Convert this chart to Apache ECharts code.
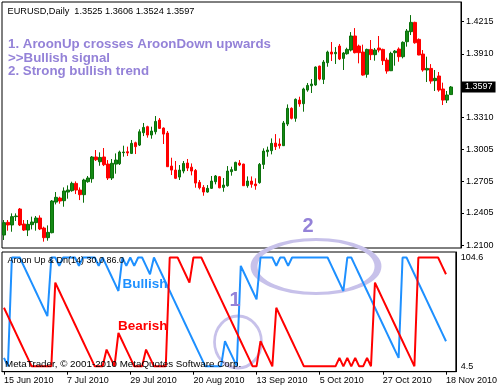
<!DOCTYPE html>
<html><head><meta charset="utf-8">
<script src="https://cdn.jsdelivr.net/npm/echarts@6/dist/echarts.min.js"></script>
<style>html,body{margin:0;padding:0;background:#fff}#c{width:500px;height:390px}</style>
</head><body><div id="c"></div>
<script>
const symbolName = 'EURUSD', timeframe = 'Daily';
const aroonPeriod = 14;
const opens = [1.2195,1.2315,1.2290,1.2369,1.2441,1.2299,1.2242,1.2293,1.2312,1.2356,
1.2261,1.2170,1.2217,1.2507,1.2545,1.2520,1.2602,1.2615,1.2684,1.2621,
1.2577,1.2700,1.2728,1.2934,1.2889,1.2934,1.2867,1.2735,1.2867,1.2870,
1.2975,1.2984,1.2968,1.3069,1.3047,1.3164,1.3221,1.3142,1.3173,1.3284,
1.3208,1.3161,1.2848,1.2810,1.2744,1.2801,1.2877,1.2838,1.2807,1.2694,
1.2646,1.2602,1.2637,1.2700,1.2747,1.2646,1.2662,1.2795,1.2807,1.2877,
1.2867,1.2662,1.2706,1.2678,1.2691,1.2864,1.2984,1.2994,1.3066,1.3057,
1.3041,1.3246,1.3395,1.3300,1.3473,1.3439,1.3568,1.3609,1.3616,1.3795,
1.3669,1.3827,1.3928,1.3912,1.3985,1.3868,1.3912,1.3947,1.4080,1.3985,
1.3928,1.3717,1.3953,1.3903,1.3966,1.3953,1.3852,1.3751,1.3922,1.3956,
1.3884,1.4026,1.4121,1.4209,1.4048,1.3909,1.3758,1.3773,1.3657,1.3701,
1.3578,1.3473,1.3525];
const highs = [1.2337,1.2337,1.2400,1.2400,1.2451,1.2337,1.2337,1.2369,1.2375,1.2381,
1.2274,1.2286,1.2526,1.2602,1.2558,1.2646,1.2665,1.2700,1.2703,1.2646,
1.2728,1.2754,1.2943,1.3000,1.2978,1.3019,1.2905,1.2915,1.2968,1.2994,
1.3041,1.3032,1.3095,1.3079,1.3196,1.3256,1.3230,1.3221,1.3322,1.3303,
1.3214,1.3180,1.2927,1.2896,1.2858,1.2896,1.2915,1.2873,1.2820,1.2716,
1.2668,1.2668,1.2754,1.2763,1.2754,1.2735,1.2848,1.2842,1.2889,1.2905,
1.2870,1.2750,1.2750,1.2732,1.2877,1.3016,1.3032,1.3110,1.3151,1.3110,
1.3275,1.3432,1.3404,1.3489,1.3505,1.3590,1.3635,1.3672,1.3792,1.3799,
1.3852,1.3941,1.4023,1.3975,1.4004,1.3928,1.3969,1.4117,1.4155,1.3998,
1.3998,1.3960,1.4042,1.3966,1.4080,1.3960,1.3874,1.3931,1.3947,1.3972,
1.4029,1.4146,1.4278,1.4215,1.4057,1.3947,1.3884,1.3814,1.3758,1.3739,
1.3638,1.3559,1.3606];
const lows = [1.2148,1.2236,1.2226,1.2328,1.2280,1.2233,1.2185,1.2248,1.2236,1.2242,
1.2132,1.2141,1.2211,1.2485,1.2492,1.2463,1.2539,1.2605,1.2583,1.2526,
1.2501,1.2690,1.2690,1.2896,1.2851,1.2848,1.2716,1.2716,1.2776,1.2858,
1.2937,1.2943,1.2962,1.2962,1.3038,1.3132,1.3117,1.3107,1.3148,1.3202,
1.3057,1.2840,1.2763,1.2725,1.2716,1.2779,1.2801,1.2760,1.2643,1.2627,
1.2567,1.2596,1.2631,1.2675,1.2638,1.2605,1.2653,1.2757,1.2801,1.2848,
1.2660,1.2643,1.2643,1.2624,1.2681,1.2820,1.2937,1.2959,1.3000,1.3013,
1.3038,1.3227,1.3290,1.3268,1.3410,1.3363,1.3552,1.3540,1.3609,1.3660,
1.3625,1.3789,1.3843,1.3815,1.3852,1.3758,1.3903,1.3934,1.3915,1.3821,
1.3704,1.3685,1.3852,1.3846,1.3925,1.3805,1.3723,1.3748,1.3799,1.3836,
1.3868,1.3979,1.4089,1.4007,1.3898,1.3742,1.3644,1.3628,1.3559,1.3552,
1.3426,1.3445,1.3524];
const closes = [1.2312,1.2290,1.2369,1.2375,1.2290,1.2242,1.2296,1.2318,1.2356,1.2252,
1.2170,1.2220,1.2517,1.2552,1.2517,1.2612,1.2621,1.2684,1.2621,1.2577,
1.2716,1.2735,1.2934,1.2908,1.2930,1.2861,1.2735,1.2874,1.2905,1.2981,
1.2981,1.2972,1.3063,1.3032,1.3173,1.3214,1.3142,1.3180,1.3271,1.3205,
1.3151,1.2842,1.2810,1.2732,1.2810,1.2873,1.2829,1.2801,1.2687,1.2643,
1.2602,1.2637,1.2706,1.2754,1.2642,1.2668,1.2801,1.2814,1.2883,1.2858,
1.2662,1.2706,1.2675,1.2662,1.2864,1.2990,1.3000,1.3063,1.3032,1.3041,
1.3256,1.3395,1.3300,1.3480,1.3436,1.3578,1.3612,1.3625,1.3786,1.3672,
1.3833,1.3928,1.3909,1.3925,1.3862,1.3919,1.3953,1.4080,1.3922,1.3922,
1.3710,1.3953,1.3903,1.3947,1.3947,1.3846,1.3748,1.3915,1.3937,1.3884,
1.4020,1.4127,1.4209,1.4016,1.3900,1.3758,1.3773,1.3653,1.3679,1.3568,
1.3473,1.3521,1.3597];
const aroonUp = [16,9,100,100,100,93,86,79,72,65,
58,51,100,100,93,100,100,100,100,93,
100,100,100,100,93,100,93,86,79,72,
100,93,100,93,100,100,93,86,100,93,
86,79,72,65,58,51,44,37,30,23,
16,9,9,9,9,9,30,23,16,9,
93,86,79,72,65,100,100,100,100,93,
100,100,93,100,100,100,100,100,100,100,
100,100,100,93,86,79,72,100,100,93,
86,79,72,65,58,51,44,37,30,23,
16,100,100,93,86,79,72,65,58,51,
44,37,30];
const aroonDown = [58,51,44,37,30,23,16,9,9,9,
9,9,9,79,72,65,58,51,44,37,
30,23,16,9,9,9,23,16,9,37,
30,23,16,9,9,9,23,16,9,9,
9,9,100,100,100,93,86,79,100,100,
100,93,86,79,72,65,58,51,44,37,
30,23,16,9,9,30,23,16,9,58,
51,44,37,30,23,16,9,9,9,9,
9,9,9,9,9,16,9,16,9,16,
9,9,16,9,79,72,65,58,51,44,
37,30,23,16,9,100,100,100,100,100,
100,93,86];
const priceTicks = [1.2100, 1.2405, 1.2705, 1.3005, 1.3310, 1.3910, 1.4215];
const aroonTicks = [104.6, 4.5];
const noteLines = ['1. AroonUp crosses AroonDown upwards', '>>Bullish signal', '2. Strong bullish trend'];
const monthNames = ['Jan','Feb','Mar','Apr','May','Jun','Jul','Aug','Sep','Oct','Nov','Dec'];

// trading-day categories (weekdays) starting 15 Jun 2010
const dates = [];
const d = new Date(Date.UTC(2010, 5, 15));
while (dates.length < opens.length) {
  const wd = d.getUTCDay();
  if (wd !== 0 && wd !== 6) dates.push(d.getUTCDate() + ' ' + monthNames[d.getUTCMonth()] + ' ' + d.getUTCFullYear());
  d.setUTCDate(d.getUTCDate() + 1);
}
const cats = dates.concat(['', '']);
const n = opens.length;
const last = n - 1;
const FONT = '"Liberation Sans", Arial, sans-serif';
const PURPLE = '#9482d8';
const ELL = '#c7c1ea';
const BLUE = '#1e90ff';

const candles = opens.map((o, i) => [o, closes[i], lows[i], highs[i]]);
const showLab = (idx) => idx % 16 === 0 && idx < n;

const chart = echarts.init(document.getElementById('c'), null, {renderer: 'canvas'});
chart.setOption({
  animation: false,
  backgroundColor: '#fff',
  grid: [
    {left: 2, right: 39, top: 2, height: 246, show: true, borderColor: '#000', borderWidth: 1, backgroundColor: '#fff'},
    {left: 2, right: 39, top: 252, bottom: 18.3, show: true, borderColor: '#000', borderWidth: 1, backgroundColor: '#fff'}
  ],
  xAxis: [
    {gridIndex: 0, type: 'category', data: cats, boundaryGap: true, show: false},
    {gridIndex: 1, type: 'category', data: cats, boundaryGap: true,
     axisLine: {show: true, lineStyle: {color: '#000', width: 1}},
     axisTick: {show: true, alignWithLabel: true, interval: showLab, length: 3, lineStyle: {color: '#000'}},
     axisLabel: {interval: showLab, align: 'left', margin: 4, color: '#000', fontFamily: FONT, fontSize: 9},
     splitLine: {show: false}}
  ],
  yAxis: [
    {gridIndex: 0, type: 'value', position: 'right', min: 1.2072, max: 1.4402,
     axisLine: {show: true, lineStyle: {color: '#000'}},
     axisTick: {show: true, customValues: priceTicks, length: 3, lineStyle: {color: '#000'}},
     axisLabel: {customValues: priceTicks, formatter: v => v.toFixed(4), margin: 5, color: '#000', fontFamily: FONT, fontSize: 9},
     splitLine: {show: false}},
    {gridIndex: 1, type: 'value', position: 'right', min: 4.5, max: 104.6,
     axisLine: {show: true, lineStyle: {color: '#000'}},
     axisTick: {show: false},
     axisLabel: {customValues: aroonTicks,
                 formatter: v => (v > 50 ? '{t|' : '{b|') + v.toFixed(1) + '}',
                 rich: {t: {padding: [12, 0, 0, 0], color: '#000', fontFamily: FONT, fontSize: 9},
                        b: {padding: [0, 0, 10, 0], color: '#000', fontFamily: FONT, fontSize: 9}},
                 margin: 5, color: '#000', fontFamily: FONT, fontSize: 9},
     splitLine: {show: false}}
  ],
  series: [
    {type: 'candlestick', xAxisIndex: 0, yAxisIndex: 0, data: candles, barWidth: 3, clip: false,
     itemStyle: {color: '#148a14', color0: '#ff0000', borderColor: '#0b700b', borderColor0: '#ff0000', borderWidth: 1},
     markLine: {silent: true, symbol: ['none', 'none'], precision: 4,
       lineStyle: {color: 'rgba(0,0,0,0)', width: 0},
       label: {show: true, position: 'end', distance: 1, formatter: closes[last].toFixed(4),
               color: '#fff', backgroundColor: '#000', padding: [1, 3, 1, 3], fontFamily: FONT, fontSize: 9},
       emphasis: {disabled: true},
       data: [{yAxis: closes[last]}]}},
    {type: 'line', name: 'Aroon Up', xAxisIndex: 1, yAxisIndex: 1, data: aroonUp, showSymbol: false, symbol: 'none',
     lineStyle: {color: BLUE, width: 2}, itemStyle: {color: BLUE}},
    {type: 'line', name: 'Aroon Down', xAxisIndex: 1, yAxisIndex: 1, data: aroonDown, showSymbol: false, symbol: 'none',
     lineStyle: {color: '#ff0000', width: 2}, itemStyle: {color: '#ff0000'}}
  ],
  graphic: [
    {type: 'circle', x: 316, y: 266.5, scaleX: 62 / 27, shape: {cx: 0, cy: 0, r: 27}, z: 1,
     style: {fill: 'none', stroke: ELL, lineWidth: 3, strokeNoScale: true}},
    {type: 'circle', x: 238, y: 342, scaleX: 23.5 / 26, shape: {cx: 0, cy: 0, r: 26}, z: 1,
     style: {fill: 'none', stroke: ELL, lineWidth: 3, strokeNoScale: true}},
    {type: 'text', x: 7.5, y: 11, z: 10, style: {text: symbolName + ',' + timeframe + '  ' + [opens[last], highs[last], lows[last], closes[last]].map(v => v.toFixed(4)).join(' '),
      fill: '#000', font: '9.2px ' + FONT, textAlign: 'left', textVerticalAlign: 'middle', align: 'left', verticalAlign: 'middle'}},
    {type: 'text', x: 8, y: 44.7, z: 10, style: {text: noteLines[0], fill: PURPLE, font: 'bold 13.3px ' + FONT, textVerticalAlign: 'middle', verticalAlign: 'middle'}},
    {type: 'text', x: 8, y: 58, z: 10, style: {text: noteLines[1], fill: PURPLE, font: 'bold 13.3px ' + FONT, textVerticalAlign: 'middle', verticalAlign: 'middle'}},
    {type: 'text', x: 8, y: 71.3, z: 10, style: {text: noteLines[2], fill: PURPLE, font: 'bold 13.3px ' + FONT, textVerticalAlign: 'middle', verticalAlign: 'middle'}},
    {type: 'text', x: 308, y: 226, z: 10, style: {text: '2', fill: PURPLE, font: 'bold 20px ' + FONT, textAlign: 'center', align: 'center', textVerticalAlign: 'middle', verticalAlign: 'middle'}},
    {type: 'text', x: 235, y: 300, z: 10, style: {text: '1', fill: PURPLE, font: 'bold 20px ' + FONT, textAlign: 'center', align: 'center', textVerticalAlign: 'middle', verticalAlign: 'middle'}},
    {type: 'text', x: 122.5, y: 284.5, z: 10, style: {text: 'Bullish', fill: BLUE, font: 'bold 13.5px ' + FONT, textVerticalAlign: 'middle', verticalAlign: 'middle'}},
    {type: 'text', x: 118, y: 326, z: 10, style: {text: 'Bearish', fill: '#ff0000', font: 'bold 13.5px ' + FONT, textVerticalAlign: 'middle', verticalAlign: 'middle'}},
    {type: 'text', x: 7.5, y: 260.5, z: 10, style: {text: 'Aroon Up & Dn(' + aroonPeriod + ') ' + aroonUp[last].toFixed(1) + ' ' + aroonDown[last].toFixed(1),
      fill: '#000', font: '9px ' + FONT, textVerticalAlign: 'middle', verticalAlign: 'middle'}},
    {type: 'text', x: 5, y: 364, z: 10, style: {text: 'MetaTrader, \u00a9 2001-2010 MetaQuotes Software Corp.',
      fill: '#000', font: '9.8px ' + FONT, textVerticalAlign: 'middle', verticalAlign: 'middle'}}
  ]
});
</script>
</body></html>
